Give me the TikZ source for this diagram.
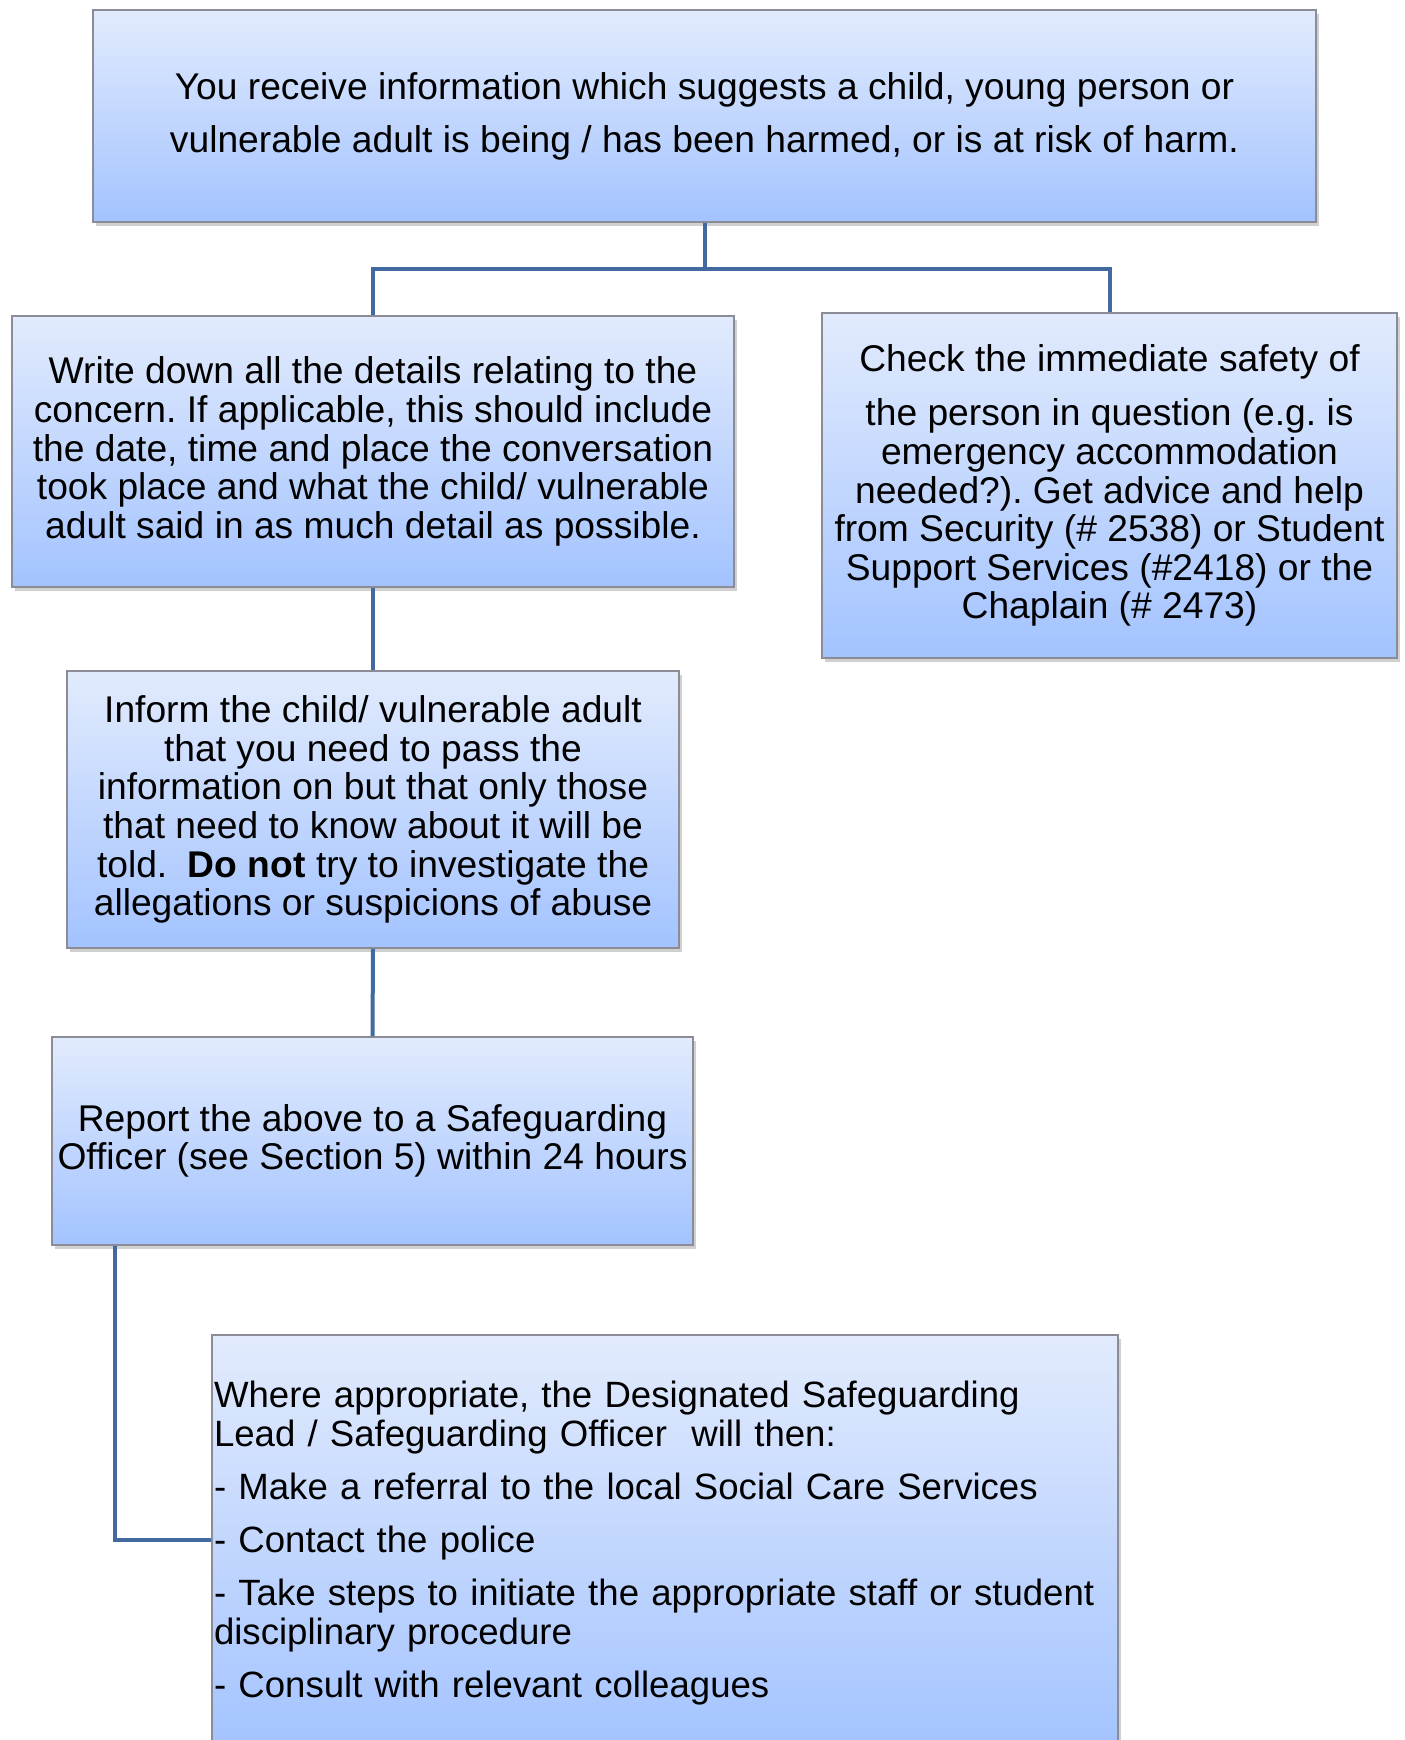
\documentclass[tikz,border=0pt]{standalone}
\usepackage{fontspec}
\setmainfont{Liberation Sans}
\usetikzlibrary{shadows}
\definecolor{boxtop}{RGB}{226,235,253}
\definecolor{boxbot}{RGB}{163,195,255}
\definecolor{boxline}{RGB}{140,140,150}
\definecolor{conn}{RGB}{66,106,160}
\newcommand{\bodyfont}{\frenchspacing\fontsize{18.6pt}{19.3pt}\selectfont}
\newcommand{\topfont}{\frenchspacing\fontsize{18.6pt}{26.6pt}\selectfont}
\newcommand{\leadfont}{\frenchspacing\fontsize{18.3pt}{19.4pt}\selectfont}
\tikzset{
 flowbox/.style={draw=boxline, line width=0.8pt, top color=boxtop, bottom color=boxbot,
   drop shadow={shadow xshift=1.5pt, shadow yshift=-2pt, opacity=0.3, fill=black!60},
   inner sep=0pt, align=center, font=\bodyfont},
 link/.style={draw=conn, line width=2pt}
}
\begin{document}
\begin{tikzpicture}[x=0.5pt,y=-0.5pt]
\useasboundingbox (0,0) rectangle (1404,1740);
\fill[white] (0,0) rectangle (1404,1740);
\clip (0,0) rectangle (1404,1740);

\node[flowbox, font=\topfont, minimum width=611.5pt, minimum height=106pt] (top) at (704.5,116)
 {You receive information which suggests a child, young person or\\
  vulnerable adult is being / has been harmed, or is at risk of harm.};

\node[flowbox, minimum width=361pt, minimum height=135.5pt] (write) at (373,451.5)
 {Write down all the details relating to the\\
  concern. If applicable, this should include\\
  the date, time and place the conversation\\
  took place and what the child/ vulnerable\\
  adult said in as much detail as possible.};

\node[flowbox, minimum width=287.5pt, minimum height=172.5pt] (check) at (1109.5,485.5)
 {Check the immediate safety of\\[8pt]
  the person in question (e.g. is\\
  emergency accommodation\\
  needed?). Get advice and help\\
  from Security (\# 2538) or Student\\
  Support Services (\#2418) or the\\
  Chaplain (\# 2473)};

\node[flowbox, minimum width=306pt, minimum height=138.5pt] (inform) at (373,809.5)
 {Inform the child/ vulnerable adult\\
  that you need to pass the\\
  information on but that only those\\
  that need to know about it will be\\
  told.\ \ \textbf{Do not} try to investigate the\\
  allegations or suspicions of abuse};

\node[flowbox, minimum width=320.5pt, minimum height=104pt] (report) at (372.5,1141)
 {Report the above to a Safeguarding\\
  Officer (see Section 5) within 24 hours};

\node[flowbox, font=\leadfont, minimum width=453pt, minimum height=208pt, text width=451pt,
      inner xsep=1pt, align=left] (lead) at (665,1543)
 {Where appropriate, the Designated Safeguarding\\
  Lead / Safeguarding Officer\ \ will then:\\[7.2pt]
  - Make a referral to the local Social Care Services\\[7.2pt]
  - Contact the police\\[7.2pt]
  - Take steps to initiate the appropriate staff or student\\
  disciplinary procedure\\[7.2pt]
  - Consult with relevant colleagues};

\coordinate (j1) at (704.5,269);
\coordinate (j2) at (115,1540);
\draw[link] (top.south) -- (j1);
\draw[link] (j1) -| (write.north);
\draw[link] (j1) -| (check.north);
\draw[link] (write.south) -- (inform.north);
\draw[link] (inform.south) -- (report.north);
\draw[link] (report.south -| j2) -- (j2) -- (j2 -| lead.west);
\end{tikzpicture}
\end{document}
